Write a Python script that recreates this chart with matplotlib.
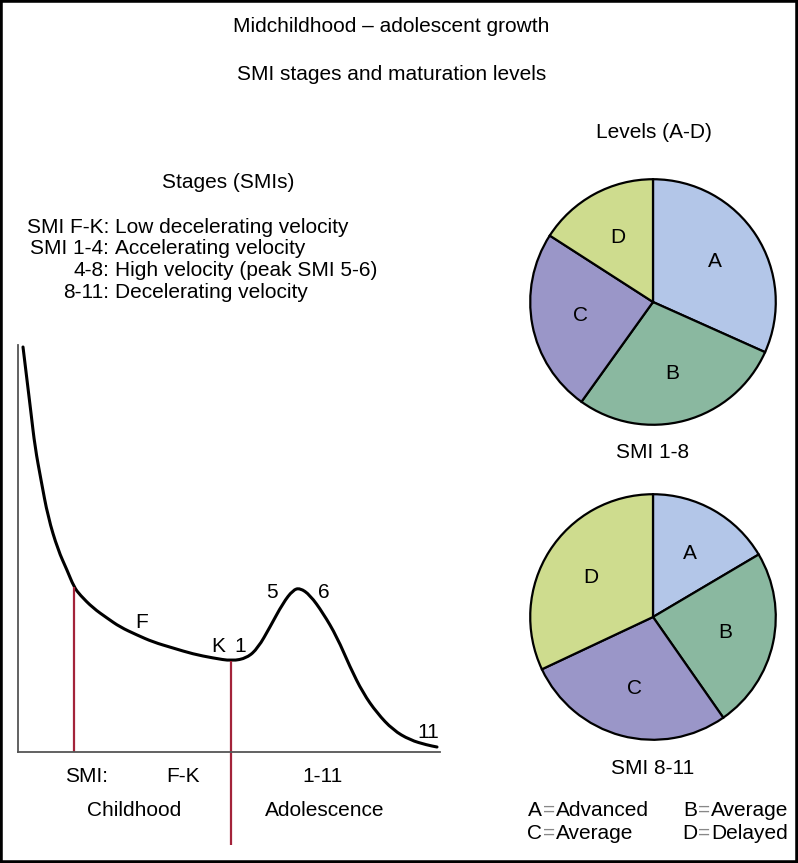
import matplotlib.pyplot as plt
from matplotlib.patches import Rectangle, PathPatch
from matplotlib.path import Path

plt.rcParams['font.family'] = ['Liberation Sans', 'DejaVu Sans']

W, H = 798, 863

# growth velocity curve (x ~ age, y ~ velocity)
curve_x = [5, 9, 13, 17, 23, 30, 40, 49, 56, 62, 75, 89, 102, 119, 135, 155, 175, 195,
           214, 229, 240, 252, 265, 275, 282, 292, 305, 319, 332, 345, 359, 375, 392, 409, 419]
curve_y = [405, 372, 339, 305, 272, 235, 202, 182, 165, 157, 144, 134, 125, 117, 110, 104, 98, 94,
           91, 94, 104, 125, 149, 162, 164, 157, 139, 115, 85, 59, 39, 22, 12, 7, 5]

# red dividers
divider_x = [56, 213]
divider_top = [165, 91]
divider_bottom = [0, -93]

# pie values
levels = ['A', 'B', 'C', 'D']
pie_smi_1_8 = [31.7, 28.2, 24.2, 15.9]
pie_smi_8_11 = [16.5, 23.8, 27.7, 32.0]
level_colors = ['#b3c6e8', '#8ab8a0', '#9a96c8', '#cedc8e']

stage_codes = ['SMI F-K:', 'SMI 1-4:', '4-8:', '8-11:']
stage_texts = ['Low decelerating velocity', 'Accelerating velocity',
               'High velocity (peak SMI 5-6)', 'Decelerating velocity']

fig = plt.figure(figsize=(W / 100, H / 100), dpi=100)


def put(px, py, s, ha='center', size=15, color='black'):
    fig.text(px / W, 1 - py / H, s, ha=ha, va='center', fontsize=size, color=color)


# titles
put(391, 27, 'Midchildhood \u2013 adolescent growth')
put(392, 75, 'SMI stages and maturation levels')
put(228, 183, 'Stages (SMIs)')
for i, (code, txt) in enumerate(zip(stage_codes, stage_texts)):
    yy = 227 + i * 21.7
    put(109, yy, code, ha='right')
    put(115, yy, txt, ha='left')

# curve, drawn as a smooth path through the read points
ax = fig.add_axes([18 / W, 1 - 752 / H, 422 / W, 407 / H])
pts = list(zip(curve_x, curve_y))
verts = [pts[0]]
codes = [Path.MOVETO]
for i in range(1, len(pts) - 1):
    mid = ((pts[i][0] + pts[i + 1][0]) / 2, (pts[i][1] + pts[i + 1][1]) / 2)
    verts += [pts[i], mid]
    codes += [Path.CURVE3, Path.CURVE3]
verts.append(pts[-1])
codes.append(Path.LINETO)
ax.add_patch(PathPatch(Path(verts, codes), fill=False, edgecolor='black', lw=2.2,
                       capstyle='round'))
ax.vlines(divider_x, divider_bottom, divider_top, color='#a3233a', lw=1.6, clip_on=False)
ax.set_xlim(0, 422)
ax.set_ylim(0, 407)
ax.set_xticks([])
ax.set_yticks([])
for s in ['top', 'right']:
    ax.spines[s].set_visible(False)
for s in ['left', 'bottom']:
    ax.spines[s].set_color('#555555')
    ax.spines[s].set_linewidth(1.3)

put(142, 622, 'F')
put(218, 647, 'K')
put(240, 647, '1')
put(272, 593, '5')
put(324, 593, '6')
put(428, 732, '11')

put(87, 777, 'SMI:')
put(183, 777, 'F-K')
put(323, 777, '1-11')
put(134, 810, 'Childhood')
put(325, 810, 'Adolescence')

# pies
put(654, 132, 'Levels (A-D)')
for vals, cy, label, ly in [(pie_smi_1_8, 302, 'SMI 1-8', 452),
                            (pie_smi_8_11, 617, 'SMI 8-11', 768)]:
    pax = fig.add_axes([(653 - 124) / W, 1 - (cy + 124) / H, 248 / W, 248 / H])
    pax.pie(vals, labels=levels, colors=level_colors, startangle=90, counterclock=False,
            labeldistance=0.6, wedgeprops=dict(edgecolor='black', linewidth=1.6),
            textprops=dict(fontsize=15, ha='center', va='center'))
    pax.set_xlim(-1.01, 1.01)
    pax.set_ylim(-1.01, 1.01)
    pax.set_aspect('equal')
    put(653, ly, label)

# level key
for letter, word, kx, ky in [('A', 'Advanced', 542, 810), ('B', 'Average', 697, 810),
                             ('C', 'Average', 542, 833), ('D', 'Delayed', 697, 833)]:
    put(kx, ky, letter, ha='right')
    put(kx + 7, ky, '=', color='#888888')
    put(kx + 14, ky, word, ha='left')

fig.patches.append(Rectangle((0, 0), 1, 1, transform=fig.transFigure, fill=False,
                             edgecolor='black', lw=4))

plt.savefig('out.png', dpi=100)
plt.close()
